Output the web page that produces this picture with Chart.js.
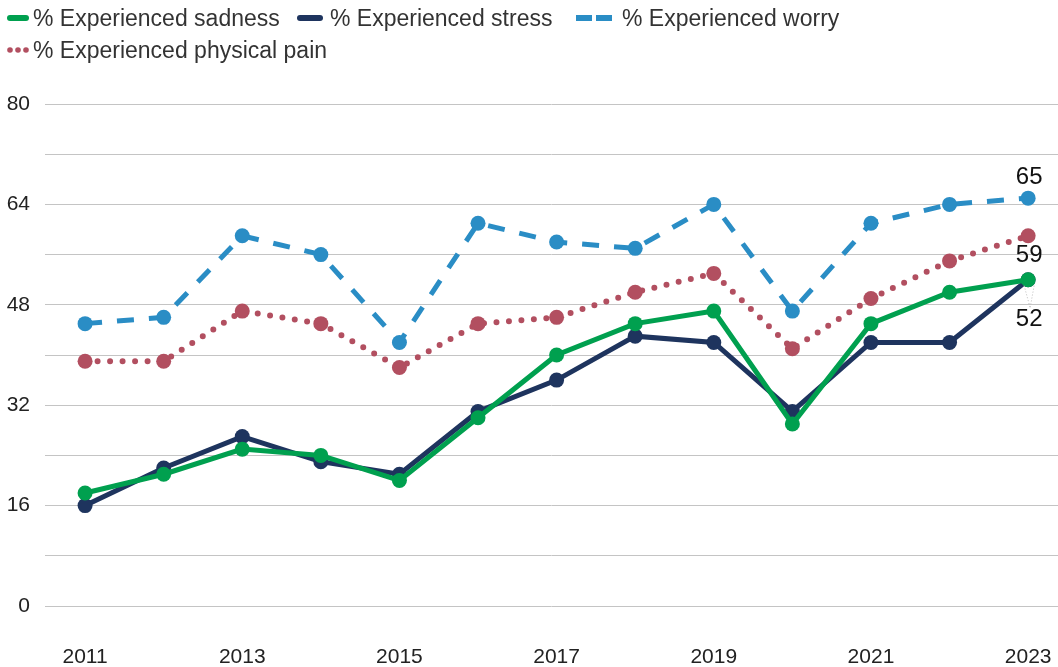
<!DOCTYPE html>
<html><head><meta charset="utf-8">
<script src="https://cdn.jsdelivr.net/npm/chart.js@4/dist/chart.umd.min.js"></script>
<style>
html,body{margin:0;padding:0;background:#fff;}
#wrap{position:relative;width:1058px;height:667px;}
#legend{position:absolute;left:0;top:0;width:1058px;font-family:"Liberation Sans",Arial,sans-serif;font-size:23px;color:#333;}
.item{position:absolute;display:flex;align-items:center;white-space:nowrap;height:30px;}
canvas{position:absolute;left:0;top:0;}
</style></head><body>
<div id="wrap">
<canvas id="c" width="1058" height="667"></canvas>
<div id="legend"></div>
</div>
<script>
const years = [2011,2012,2013,2014,2015,2016,2017,2018,2019,2020,2021,2022,2023];
const sadness = [18,21,25,24,20,30,40,45,47,29,45,50,52];
const stress  = [16,22,27,23,21,31,36,43,42,31,42,42,52];
const worry   = [45,46,59,56,42,61,58,57,64,47,61,64,65];
const pain    = [39,39,47,45,38,45,46,50,53,41,49,55,59];
const seriesNames = ['% Experienced sadness','% Experienced stress','% Experienced worry','% Experienced physical pain'];
const xTickLabels = [2011,2013,2015,2017,2019,2021,2023];
const yTickLabels = [0,16,32,48,64,80];

const colors = ['#00A04F','#1E345E','#2A8DC5','#B24F60'];
const toPts = arr => arr.map((v,i)=>({x:years[i], y:v}));

// HTML legend
const legendLayout = [
  {left:7, top:3, kind:'solid', w:22, gap:4},
  {left:297, top:3, kind:'solid', w:26, gap:7},
  {left:576, top:3, kind:'dash', w:36, gap:10},
  {left:7, top:35, kind:'dot', w:22, gap:4}
];
const leg = document.getElementById('legend');
seriesNames.forEach((n,i)=>{
  const L = legendLayout[i];
  const d = document.createElement('div');
  d.className='item'; d.style.left=L.left+'px'; d.style.top=L.top+'px';
  let svg;
  if(L.kind==='solid') svg=`<svg width="${L.w}" height="10" style="margin-right:${L.gap}px"><line x1="3" y1="5" x2="${L.w-3}" y2="5" stroke="${colors[i]}" stroke-width="6" stroke-linecap="round"/></svg>`;
  else if(L.kind==='dash') svg=`<svg width="${L.w}" height="10" style="margin-right:${L.gap}px"><line x1="0" y1="5" x2="16" y2="5" stroke="${colors[i]}" stroke-width="6"/><line x1="20" y1="5" x2="36" y2="5" stroke="${colors[i]}" stroke-width="6"/></svg>`;
  else svg=`<svg width="${L.w}" height="10" style="margin-right:${L.gap}px"><circle cx="3" cy="5" r="2.8" fill="${colors[i]}"/><circle cx="11" cy="5" r="2.8" fill="${colors[i]}"/><circle cx="19" cy="5" r="2.8" fill="${colors[i]}"/></svg>`;
  d.innerHTML = svg + '<span>'+n+'</span>';
  leg.appendChild(d);
});

const labelPlugin = {
  id:'endLabels',
  afterDatasetsDraw(chart){
    const {ctx, scales:{x,y}} = chart;
    const last = years.length-1;
    const px = x.getPixelForValue(years[last]);
    ctx.save();
    ctx.font = '24px "Liberation Sans", Arial, sans-serif';
    ctx.fillStyle = '#111';
    ctx.textAlign = 'center';
    ctx.textBaseline = 'middle';
    ctx.fillText(String(worry[last]), px+1, y.getPixelForValue(worry[last]) - 21);
    ctx.fillText(String(pain[last]), px+1, y.getPixelForValue(pain[last]) + 20);
    const sy = y.getPixelForValue(sadness[last]);
    ctx.strokeStyle = '#bbb'; ctx.lineWidth = 1; ctx.setLineDash([1,2]);
    ctx.beginPath(); ctx.moveTo(px-4, sy+6); ctx.lineTo(px+2, sy+28); ctx.stroke();
    ctx.beginPath(); ctx.moveTo(px+6, sy+6); ctx.lineTo(px+2, sy+28); ctx.stroke();
    ctx.setLineDash([]);
    ctx.fillText(String(sadness[last]), px+1, sy + 40);
    ctx.restore();
  }
};

new Chart(document.getElementById('c'), {
  type:'line',
  data:{
    datasets:[
      {label:seriesNames[0], data:toPts(sadness), borderColor:colors[0], backgroundColor:colors[0], borderWidth:5, pointRadius:7.5, pointHoverRadius:7.5, pointBorderWidth:0, tension:0},
      {label:seriesNames[1], data:toPts(stress), borderColor:colors[1], backgroundColor:colors[1], borderWidth:5, pointRadius:7.5, pointHoverRadius:7.5, pointBorderWidth:0, tension:0},
      {label:seriesNames[2], data:toPts(worry), borderColor:colors[2], backgroundColor:colors[2], borderWidth:5, borderDash:[17,15], pointRadius:7.5, pointHoverRadius:7.5, pointBorderWidth:0, tension:0},
      {label:seriesNames[3], data:toPts(pain), borderColor:colors[3], backgroundColor:colors[3], borderWidth:6, borderDash:[0,12.5], borderCapStyle:'round', pointRadius:7.5, pointHoverRadius:7.5, pointBorderWidth:0, tension:0}
    ]
  },
  options:{
    responsive:false, animation:false,
    layout:{autoPadding:false, padding:{top:104,left:0,right:0,bottom:0}},
    plugins:{legend:{display:false}, tooltip:{enabled:false}},
    scales:{
      x:{type:'linear', min:2010.49, max:2023.38,
        afterBuildTicks(s){ s.ticks = xTickLabels.map(v=>({value:v})); },
        afterFit(s){ s.paddingLeft = 0; s.paddingRight = 0; s.height = 61; },
        grid:{display:false, drawTicks:false}, border:{display:false},
        ticks:{padding:39, color:'#222', font:{family:'"Liberation Sans", Arial, sans-serif', size:21}, maxRotation:0, autoSkip:false, callback:v=>String(v)}
      },
      y:{min:0, max:80,
        afterBuildTicks(s){ const t=[]; for(let v=0; v<=80; v+=8) t.push({value:v}); s.ticks=t; },
        afterFit(s){ s.width = 45; s.paddingTop = 0; s.paddingBottom = 0; },
        grid:{color:'#c4c4c4', lineWidth:1, drawTicks:false}, border:{display:false},
        ticks:{padding:15, color:'#222', font:{family:'"Liberation Sans", Arial, sans-serif', size:21},
          callback:v=> yTickLabels.includes(v) ? String(v) : ''}
      }
    }
  },
  plugins:[labelPlugin]
});
</script>
</body></html>
